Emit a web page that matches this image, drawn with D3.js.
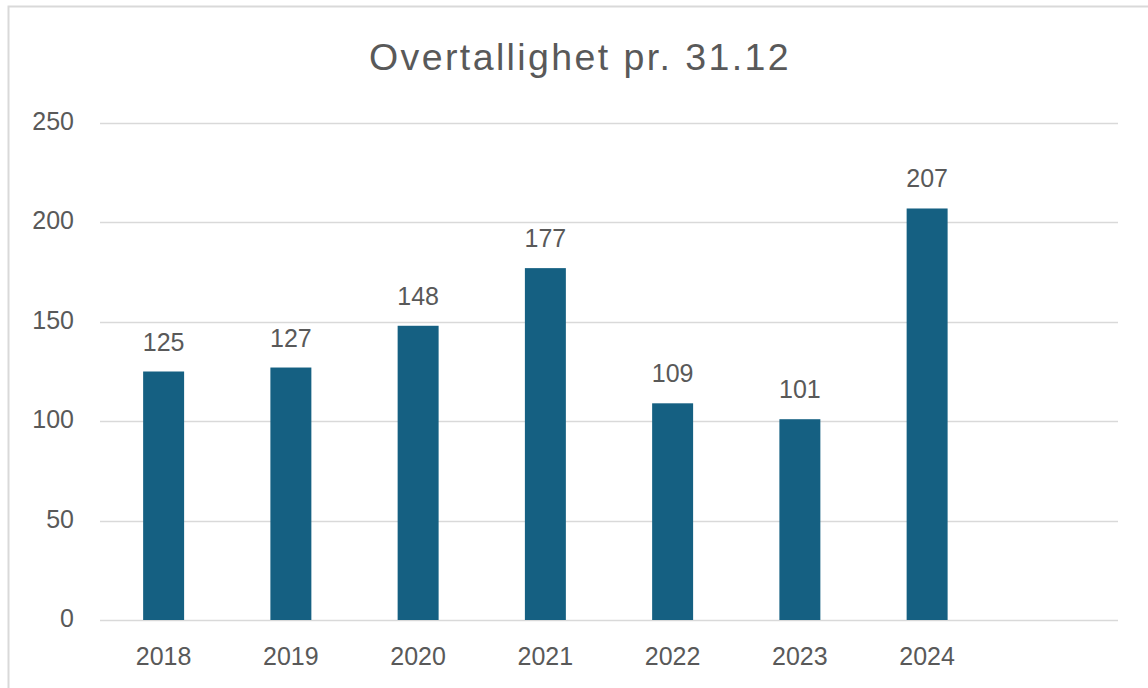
<!DOCTYPE html>
<html>
<head>
<meta charset="utf-8">
<script src="https://cdn.jsdelivr.net/npm/d3@7"></script>
<style>
  body { margin: 0; background: #fff; }
  text { font-family: "Liberation Sans", Arial, sans-serif; fill: #595959; }
</style>
</head>
<body>
<div id="chart"></div>
<script>
// chart data
var years = ['2018', '2019', '2020', '2021', '2022', '2023', '2024', ''];
var values = [125, 127, 148, 177, 109, 101, 207];
var yTicks = [0, 50, 100, 150, 200, 250];
var title = 'Overtallighet pr. 31.12';

var width = 1148, height = 688;
var margin = {left: 100, right: 30, top: 123, bottom: 68};

var svg = d3.select('#chart').append('svg')
    .attr('width', width)
    .attr('height', height);

// outer frame
svg.append('rect')
    .attr('x', 8.5).attr('y', 6.5)
    .attr('width', width).attr('height', height)
    .attr('fill', 'none')
    .attr('stroke', '#d9d9d9')
    .attr('stroke-width', 2);

var x = d3.scaleBand()
    .domain(years)
    .range([margin.left, width - margin.right])
    .paddingInner(0.678)
    .paddingOuter(0.339);

var y = d3.scaleLinear()
    .domain([0, 250])
    .range([height - margin.bottom, margin.top]);

// gridlines
svg.append('g').selectAll('line')
    .data(yTicks)
    .enter().append('line')
    .attr('x1', margin.left)
    .attr('x2', width - margin.right)
    .attr('y1', function (d) { return Math.round(y(d)) + 0.5; })
    .attr('y2', function (d) { return Math.round(y(d)) + 0.5; })
    .attr('stroke', '#d9d9d9')
    .attr('stroke-width', 1.5);

// y tick labels
svg.append('g').selectAll('text')
    .data(yTicks)
    .enter().append('text')
    .attr('x', 74)
    .attr('y', function (d) { return y(d) + 7; })
    .attr('text-anchor', 'end')
    .attr('font-size', '25px')
    .text(function (d) { return d; });

// bars
svg.append('g').selectAll('rect')
    .data(values)
    .enter().append('rect')
    .attr('x', function (d, i) { return x(years[i]); })
    .attr('y', function (d) { return y(d); })
    .attr('width', x.bandwidth())
    .attr('height', function (d) { return y(0) - y(d); })
    .attr('fill', '#156082');

// value labels
svg.append('g').selectAll('text')
    .data(values)
    .enter().append('text')
    .attr('x', function (d, i) { return x(years[i]) + x.bandwidth() / 2; })
    .attr('y', function (d) { return y(d) - 21; })
    .attr('text-anchor', 'middle')
    .attr('font-size', '25px')
    .text(function (d) { return d; });

// x labels
svg.append('g').selectAll('text')
    .data(years)
    .enter().append('text')
    .attr('x', function (d) { return x(d) + x.bandwidth() / 2; })
    .attr('y', 665)
    .attr('text-anchor', 'middle')
    .attr('font-size', '25px')
    .text(function (d) { return d; });

// title
svg.append('text')
    .attr('x', 580)
    .attr('y', 70)
    .attr('text-anchor', 'middle')
    .attr('font-size', '37.5px')
    .attr('letter-spacing', '2.4px')
    .text(title);
</script>
</body>
</html>
